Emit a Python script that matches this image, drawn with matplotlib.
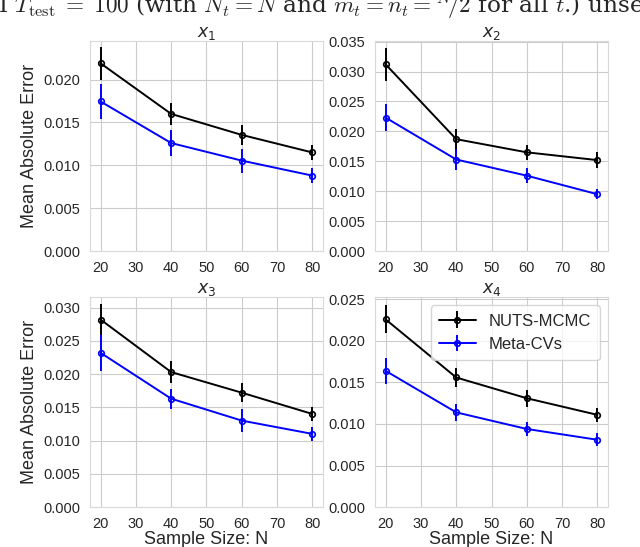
import numpy as np
import matplotlib
matplotlib.use("Agg")
import matplotlib.pyplot as plt
import seaborn as sns

# ---- data ----
sample_sizes = [20, 40, 60, 80]
titles = ["$x_1$", "$x_2$", "$x_3$", "$x_4$"]

nuts_mean = [
    [0.0219, 0.0160, 0.01355, 0.0115],
    [0.0312, 0.0187, 0.0165, 0.0152],
    [0.0282, 0.0203, 0.0172, 0.0140],
    [0.0226, 0.0156, 0.0131, 0.0111],
]
nuts_err = [
    [0.0019, 0.0013, 0.0012, 0.0009],
    [0.0027, 0.0017, 0.0013, 0.0013],
    [0.0023, 0.0016, 0.0014, 0.0011],
    [0.0017, 0.0012, 0.0010, 0.0008],
]
meta_mean = [
    [0.01745, 0.0126, 0.01055, 0.0088],
    [0.0223, 0.0153, 0.0126, 0.0095],
    [0.0232, 0.0163, 0.0130, 0.0110],
    [0.0164, 0.0114, 0.0094, 0.0081],
]
meta_err = [
    [0.0020, 0.0015, 0.0014, 0.0009],
    [0.0022, 0.0017, 0.0013, 0.0008],
    [0.0027, 0.0015, 0.0017, 0.0010],
    [0.0016, 0.0010, 0.0009, 0.0008],
]
y_tops = [0.0245, 0.0351, 0.0316, 0.0253]
xticks = [20, 30, 40, 50, 60, 70, 80]
caption = (r"I $T_{\mathrm{test}}\;=\;100$ (with $N_t = N$ and $m_t = n_t = "
           r"{}^N\!/2$ for all $t$.) unseen")

sns.set_style("whitegrid")
plt.rcParams["font.family"] = ["Liberation Sans", "DejaVu Sans"]
plt.rcParams["mathtext.fontset"] = "dejavusans"

fig = plt.figure(figsize=(6.4, 5.47), dpi=100)

positions = [
    [0.1406, 0.541, 0.364, 0.384],
    [0.586, 0.541, 0.364, 0.384],
    [0.1406, 0.0731, 0.364, 0.384],
    [0.586, 0.0731, 0.364, 0.384],
]

for i in range(4):
    ax = fig.add_axes(positions[i])
    ax.errorbar(sample_sizes, nuts_mean[i], yerr=nuts_err[i], color="black",
                marker="o", markersize=4, mfc="none", mew=1.2,
                linewidth=1.4, elinewidth=1.4, label="NUTS-MCMC")
    ax.errorbar(sample_sizes, meta_mean[i], yerr=meta_err[i], color="blue",
                marker="o", markersize=4, mfc="none", mew=1.2,
                linewidth=1.4, elinewidth=1.4, label="Meta-CVs")
    ax.set_xlim(17, 83)
    ax.set_ylim(0, y_tops[i])
    ax.set_xticks(xticks)
    ax.yaxis.set_major_formatter(matplotlib.ticker.FormatStrFormatter("%.3f"))
    ax.yaxis.set_major_locator(matplotlib.ticker.MultipleLocator(0.005))
    ax.tick_params(labelsize=10.5, colors="0.15")
    ax.set_title(titles[i], fontsize=12.5, pad=3)
    for s in ax.spines.values():
        s.set_color("0.85")
    if i % 2 == 0:
        ax.set_ylabel("Mean Absolute Error", fontsize=13, color="0.15")
    if i >= 2:
        ax.set_xlabel("Sample Size: N", fontsize=13, color="0.15", labelpad=0)
    if i == 3:
        ax.legend(loc="upper right", fontsize=12, frameon=True,
                  handlelength=2.2, borderpad=0.5)

fig.text(-0.003, 1.0 - 13 / 547, caption,
         fontsize=16.75, family=["DejaVu Serif"], math_fontfamily="cm",
         ha="left", va="baseline")

fig.savefig("out.png", dpi=100)
